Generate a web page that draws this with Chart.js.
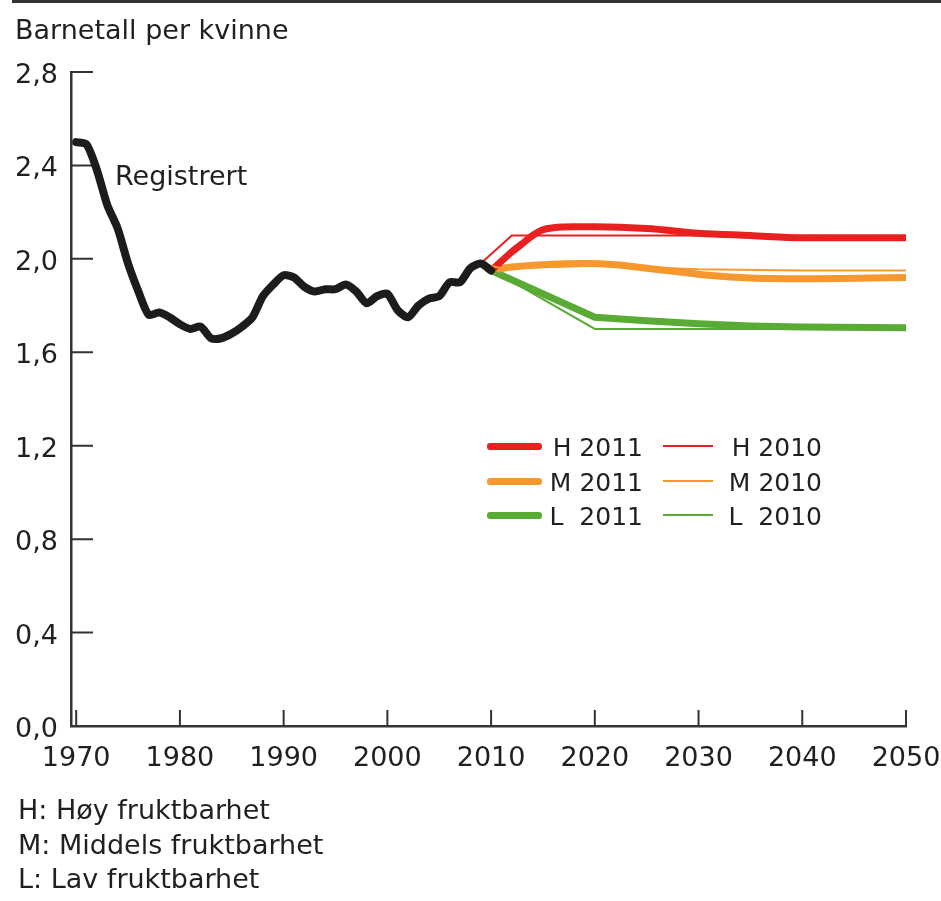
<!DOCTYPE html>
<html>
<head>
<meta charset="utf-8">
<script src="https://cdn.jsdelivr.net/npm/chart.js@4.4.0/dist/chart.umd.min.js"></script>
<style>
html,body{margin:0;padding:0;background:#fff;}
#wrap{position:relative;width:941px;height:901px;overflow:hidden;font-family:"DejaVu Sans",sans-serif;color:#231f20;}
#c{position:absolute;left:0;top:0;}
#topline{position:absolute;left:12px;top:0;width:929px;height:3px;background:#333;}
.t{position:absolute;white-space:nowrap;font-size:27px;line-height:27px;}
.lg{position:absolute;white-space:nowrap;font-size:25px;line-height:25px;text-align:right;}
.sw{position:absolute;}
</style>
</head>
<body>
<div id="wrap">
  <canvas id="c" width="941" height="901"></canvas>
  <div id="topline"></div>
  <div class="t" style="left:15px;top:16px;">Barnetall per kvinne</div>
  <div class="t" style="left:115px;top:162px;">Registrert</div>
  <div class="t" style="left:18px;top:796px;">H: Høy fruktbarhet</div>
  <div class="t" style="left:18px;top:831px;">M: Middels fruktbarhet</div>
  <div class="t" style="left:18px;top:865px;">L: Lav fruktbarhet</div>
  <div id="legend"></div>
</div>
<script>
// ---- Data ----
const registrertYears = [1970,1971,1972,1973,1974,1975,1976,1977,1978,1979,1980,1981,1982,1983,1984,1985,1986,1987,1988,1989,1990,1991,1992,1993,1994,1995,1996,1997,1998,1999,2000,2001,2002,2003,2004,2005,2006,2007,2008,2009,2010];
const registrert = [2.50,2.49,2.38,2.23,2.13,1.98,1.86,1.76,1.77,1.75,1.72,1.70,1.71,1.66,1.66,1.68,1.71,1.75,1.84,1.89,1.93,1.92,1.88,1.86,1.87,1.87,1.89,1.86,1.81,1.84,1.85,1.78,1.75,1.80,1.83,1.84,1.90,1.90,1.96,1.98,1.95];

const h2011Years = [2010,2011,2012,2013,2014,2015,2016,2018,2020,2025,2030,2035,2040,2045,2050];
const h2011 =      [1.95,1.99,2.03,2.065,2.10,2.125,2.133,2.137,2.137,2.13,2.11,2.10,2.09,2.09,2.09];
const h2010Years = [2009,2012,2020,2030,2040,2050];
const h2010 =      [1.98,2.10,2.10,2.10,2.095,2.09];

const m2011Years = [2010,2012,2015,2019,2022,2025,2028,2031,2035,2040,2050];
const m2011 =      [1.95,1.965,1.975,1.98,1.975,1.96,1.945,1.93,1.918,1.915,1.92];
const m2010Years = [2009,2011,2020,2030,2040,2050];
const m2010 =      [1.98,1.96,1.97,1.955,1.95,1.95];

const l2011Years = [2010,2020,2025,2030,2035,2040,2050];
const l2011 =      [1.95,1.75,1.735,1.722,1.713,1.708,1.705];
const l2010Years = [2009,2020,2050];
const l2010 =      [1.98,1.70,1.70];

const xTicks = [1970,1980,1990,2000,2010,2020,2030,2040,2050];
const yTicks = [0,0.4,0.8,1.2,1.6,2.0,2.4,2.8];
const yTickLabels = ['0,0','0,4','0,8','1,2','1,6','2,0','2,4','2,8'];

const legendItems = [
  {label:'H 2011', color:'#e8201f', thick:true},
  {label:'H 2010', color:'#e8201f', thick:false},
  {label:'M 2011', color:'#f7982f', thick:true},
  {label:'M 2010', color:'#f7982f', thick:false},
  {label:'L  2011', color:'#5aab36', thick:true},
  {label:'L  2010', color:'#5aab36', thick:false}
];

// ---- Helpers ----
function pts(xs, ys){ return xs.map((x,i)=>({x:x, y:ys[i]})); }
const RED='#e8201f', ORANGE='#f7982f', GREEN='#5aab36', BLACK='#1c1c1c';
const FONT='"DejaVu Sans", sans-serif';
const TXT='#231f20';

function thin(data,color){return {data:data,borderColor:color,borderWidth:2,pointRadius:0,tension:0,fill:false};}
function thick(data,color,t){return {data:data,borderColor:color,borderWidth:7,pointRadius:0,tension:t,cubicInterpolationMode:'monotone',borderCapStyle:'round',borderJoinStyle:'round',fill:false};}

const inwardTicks = {
  id:'inwardTicks',
  beforeDatasetsDraw(chart){
    const {ctx, chartArea:a, scales:{x,y}} = chart;
    ctx.save();
    ctx.strokeStyle='#333';
    ctx.lineWidth=2;
    ctx.beginPath();
    y.ticks.forEach(t=>{ if(t.value===0) return; const py=y.getPixelForValue(t.value); ctx.moveTo(a.left,py); ctx.lineTo(a.left+22,py); });
    x.ticks.forEach(t=>{ const px=x.getPixelForValue(t.value); ctx.moveTo(px,a.bottom); ctx.lineTo(px,a.bottom-16); });
    ctx.stroke();
    ctx.restore();
  }
};

new Chart(document.getElementById('c'), {
  type:'line',
  data:{
    datasets:[
      {data:pts(registrertYears,registrert),borderColor:BLACK,borderWidth:8,pointRadius:0,tension:0.25,borderCapStyle:'round',borderJoinStyle:'round',fill:false},
      thin(pts(h2010Years,h2010),RED),
      thin(pts(m2010Years,m2010),ORANGE),
      thin(pts(l2010Years,l2010),GREEN),
      thick(pts(h2011Years,h2011),RED,0.4),
      thick(pts(m2011Years,m2011),ORANGE,0.4),
      {data:pts(l2011Years,l2011),borderColor:GREEN,borderWidth:7,pointRadius:0,tension:0,borderCapStyle:'round',borderJoinStyle:'round',fill:false}
    ]
  },
  options:{
    responsive:false,
    animation:false,
    events:[],
    layout:{padding:{left:0,right:35,top:72,bottom:115}},
    plugins:{legend:{display:false},tooltip:{enabled:false},title:{display:false}},
    scales:{
      x:{
        type:'linear',min:1969.5,max:2050,
        afterBuildTicks:s=>{s.ticks=xTicks.map(v=>({value:v}));},
        afterFit:s=>{s.height=60;s.paddingLeft=0;s.paddingRight=0;},
        grid:{display:false,drawTicks:false},
        border:{display:true,color:'#333',width:2.5},
        ticks:{font:{family:FONT,size:27},color:TXT,padding:17,maxRotation:0,autoSkip:false,callback:v=>String(v)}
      },
      y:{
        type:'linear',min:0,max:2.8,
        afterBuildTicks:s=>{s.ticks=yTicks.map(v=>({value:v}));},
        afterFit:s=>{s.width=71;s.paddingTop=0;s.paddingBottom=0;},
        grid:{display:false,drawTicks:false},
        border:{display:true,color:'#333',width:2.5},
        ticks:{font:{family:FONT,size:27},color:TXT,padding:13,labelOffset:4,callback:v=>yTickLabels[yTicks.findIndex(t=>Math.abs(t-v)<1e-6)]}
      }
    }
  },
  plugins:[inwardTicks]
});

// ---- Legend (HTML) ----
const lg=document.getElementById('legend');
const rowY=[446,481,515];
legendItems.forEach((it,i)=>{
  const row=Math.floor(i/2), col=i%2;
  const cy=rowY[row];
  const sw=document.createElement('div');
  sw.className='sw';
  if(it.thick){ sw.style.cssText='left:487px;width:55px;height:7px;border-radius:3px;top:'+(cy-3.5)+'px;background:'+it.color; }
  else { sw.style.cssText='left:663px;width:50px;height:2px;top:'+(cy-1)+'px;background:'+it.color; }
  lg.appendChild(sw);
  const tx=document.createElement('div');
  tx.className='lg';
  tx.style.right=(col===0?298:119)+'px';
  tx.style.top=(cy-11)+'px';
  tx.style.whiteSpace='pre';
  tx.textContent=it.label;
  lg.appendChild(tx);
});
</script>
</body>
</html>
